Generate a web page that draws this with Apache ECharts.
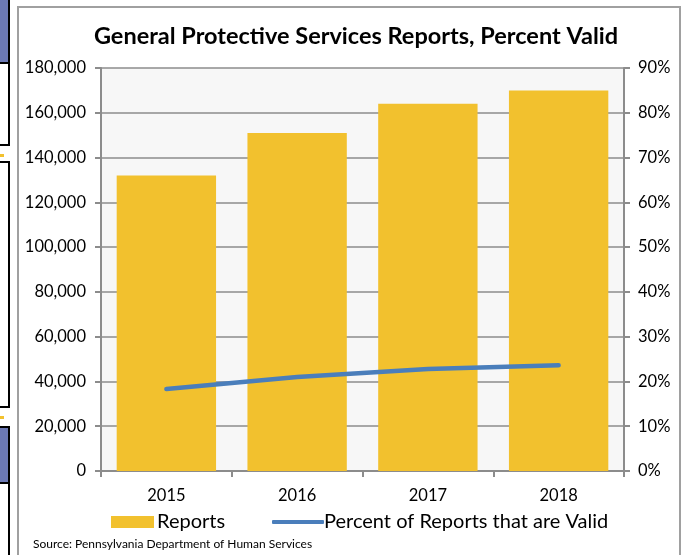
<!DOCTYPE html>
<html><head><meta charset="utf-8">
<script src="https://cdn.jsdelivr.net/npm/echarts@6/dist/echarts.min.js"></script>
<style>html,body{margin:0;padding:0;background:#fff}#c{width:683px;height:555px}</style>
</head><body><div id="c"></div>
<script>
const years = ['2015', '2016', '2017', '2018'];
const reports = [132000, 151000, 164000, 170000];
const percentValid = [18.3, 21.0, 22.8, 23.6];
const titleText = 'General Protective Services Reports, Percent Valid';
const sourceText = 'Source: Pennsylvania Department of Human Services';
const seriesNames = ['Reports', 'Percent of Reports that are Valid'];

const FONT = 'Lato, "Open Sans", sans-serif';
const chart = echarts.init(document.getElementById('c'), null, {renderer: 'canvas'});
chart.setOption({
  animation: false,
  backgroundColor: '#fff',
  textStyle: {fontFamily: FONT},
  title: {
    text: titleText, left: 351, top: 19, textAlign: 'center',
    textStyle: {fontSize: 23.5, fontWeight: 'bold', color: '#000', fontFamily: FONT}
  },
  grid: {left: 101, right: 59, top: 68, bottom: 84, show: true, backgroundColor: '#f7f7f7', borderWidth: 0},
  legend: [{
    data: [{name: seriesNames[0], icon: 'rect'}], left: 106, top: 507, itemWidth: 43, itemHeight: 12, itemGap: 5,
    textStyle: {fontSize: 20, color: '#000', fontFamily: FONT, padding: [0,0,0,-2]}
  }, {
    data: [{name: seriesNames[1], icon: 'roundRect'}], left: 267, top: 507, itemWidth: 52, itemHeight: 4,
    textStyle: {fontSize: 20, color: '#000', fontFamily: FONT, padding: [0,0,0,-5]}
  }],
  xAxis: {
    type: 'category', data: years,
    axisLine: {lineStyle: {color: '#8c8c8c', width: 2}},
    axisTick: {show: true, length: 6, lineStyle: {color: '#8c8c8c', width: 2}},
    axisLabel: {fontSize: 16.5, color: '#000', margin: 16, fontFamily: FONT}
  },
  yAxis: [{
    type: 'value', min: 0, max: 180000, interval: 20000,
    axisLine: {show: true, lineStyle: {color: '#8c8c8c', width: 2}},
    axisTick: {show: true, length: 6, lineStyle: {color: '#8c8c8c', width: 2}},
    splitLine: {show: true, lineStyle: {color: '#8c8c8c', width: 1.5}},
    axisLabel: {fontSize: 16.5, color: '#000', margin: 15, fontFamily: FONT,
      formatter: v => v.toLocaleString('en-US')}
  }, {
    type: 'value', min: 0, max: 90, interval: 10, position: 'right',
    axisLine: {show: true, lineStyle: {color: '#8c8c8c', width: 2}},
    axisTick: {show: true, length: 6, lineStyle: {color: '#8c8c8c', width: 2}},
    splitLine: {show: false},
    axisLabel: {fontSize: 16.5, color: '#000', margin: 14, fontFamily: FONT, formatter: '{value}%'}
  }],
  series: [{
    name: seriesNames[0], type: 'bar', data: reports, barWidth: '76%',
    itemStyle: {color: '#f2c12e'}
  }, {
    name: seriesNames[1], type: 'line', yAxisIndex: 1, data: percentValid,
    symbol: 'none', showSymbol: false,
    lineStyle: {color: '#4a7ebb', width: 4.5, cap: 'round'},
    itemStyle: {color: '#4a7ebb'}
  }],
  graphic: [
    {type: 'rect', shape: {x: 18, y: 7, width: 662, height: 560}, style: {fill: 'none', stroke: '#a0a0a0', lineWidth: 2}, silent: true, z: -1},
    {type: 'text', left: 33, top: 538, style: {text: sourceText, fontSize: 12, fill: '#000', fontFamily: FONT}},
    {type: 'rect', shape: {x: -2, y: -2, width: 11, height: 65}, style: {fill: '#6b78b4', stroke: '#000', lineWidth: 2}},
    {type: 'rect', shape: {x: -2, y: 63, width: 11, height: 82}, style: {fill: '#fff', stroke: '#000', lineWidth: 2}},
    {type: 'rect', shape: {x: 0, y: 154, width: 4, height: 3}, style: {fill: '#f2c12e'}},
    {type: 'rect', shape: {x: -2, y: 162, width: 11, height: 245}, style: {fill: '#fff', stroke: '#000', lineWidth: 2}},
    {type: 'rect', shape: {x: 0, y: 416, width: 4, height: 3}, style: {fill: '#f2c12e'}},
    {type: 'rect', shape: {x: -2, y: 427, width: 11, height: 56}, style: {fill: '#6b78b4', stroke: '#000', lineWidth: 2}},
    {type: 'rect', shape: {x: -2, y: 483, width: 11, height: 80}, style: {fill: '#fff', stroke: '#000', lineWidth: 2}}
  ]
});
</script></body></html>
